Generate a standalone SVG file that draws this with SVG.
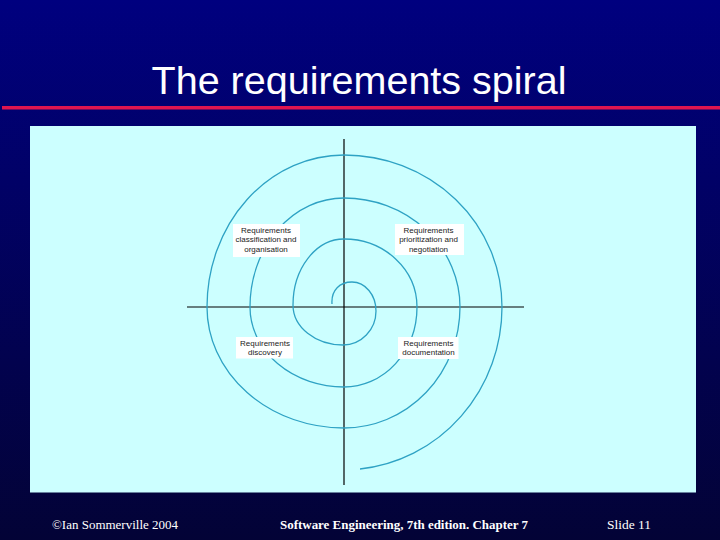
<svg xmlns="http://www.w3.org/2000/svg" width="720" height="540" viewBox="0 0 720 540">
<defs>
<linearGradient id="bg" x1="0" y1="0" x2="0" y2="1">
<stop offset="0" stop-color="#00007f"/>
<stop offset="1" stop-color="#030336"/>
</linearGradient>
<style>
.lbl{font-family:"Liberation Sans",Arial,sans-serif;font-size:8px;fill:#222;text-anchor:middle}
.box{fill:#ffffff}
.axis{stroke:#000;stroke-width:1.2;fill:none}
.spiral{stroke:#2ea2c4;stroke-width:1.3;fill:none}
.foot{font-family:"Liberation Serif","Times New Roman",serif;font-size:12px;fill:#ffffff}
</style>
</defs>
<rect x="0" y="0" width="720" height="540" fill="url(#bg)"/>
<text x="359" y="94" font-family="Liberation Sans, Arial, sans-serif" font-size="39.5" fill="#ffffff" text-anchor="middle">The requirements spiral</text>
<rect x="2" y="106" width="718" height="3.5" fill="#e0154f"/>
<rect x="30" y="126" width="666" height="366.5" fill="#ccffff"/>
<g id="connectors">
<line class="axis" x1="344" y1="139" x2="344" y2="485"/>
<line class="axis" x1="187" y1="307" x2="524" y2="307"/>
<path class="spiral" d="M332,304 C331,290 340,282 352,282 A24 29 0 0 1 376 311 A33 34 0 0 1 343 345 A50 40 0 0 1 293 305 A51 66 0 0 1 344 239 A73 68 0 0 1 417 307 A73 80 0 0 1 344 387 A94 80 0 0 1 250 307 A94 109 0 0 1 344 198 A116 109 0 0 1 460 307 A116 121 0 0 1 344 428 A137 121 0 0 1 207 307 A137 152 0 0 1 344 155 A158 152 0 0 1 502 307 A158 163 0 0 1 360 469"/>
</g>
<g id="classification">
<rect class="box" x="233" y="224" width="67" height="33"/>
<text class="lbl" x="266" y="233.3">Requirements</text>
<text class="lbl" x="266" y="242.3">classification and</text>
<text class="lbl" x="266" y="251.5">organisation</text>
</g>
<g id="prioritization">
<rect class="box" x="395" y="224" width="69" height="31"/>
<text class="lbl" x="428.5" y="233.3">Requirements</text>
<text class="lbl" x="428.5" y="242.3">prioritization and</text>
<text class="lbl" x="428.5" y="251.5">negotiation</text>
</g>
<g id="discovery">
<rect class="box" x="236" y="337" width="57" height="21.5"/>
<text class="lbl" x="265" y="345.5">Requirements</text>
<text class="lbl" x="265" y="355">discovery</text>
</g>
<g id="documentation">
<rect class="box" x="398" y="337" width="60.5" height="22"/>
<text class="lbl" x="428.5" y="345.5">Requirements</text>
<text class="lbl" x="428.5" y="355">documentation</text>
</g>
<text class="foot" x="52" y="529.3" textLength="126" lengthAdjust="spacingAndGlyphs">©Ian Sommerville 2004</text>
<text class="foot" x="280" y="529.3" font-weight="bold" textLength="248" lengthAdjust="spacingAndGlyphs">Software Engineering, 7th edition. Chapter 7</text>
<text class="foot" x="607" y="529.3" textLength="44" lengthAdjust="spacingAndGlyphs">Slide  11</text>
</svg>
